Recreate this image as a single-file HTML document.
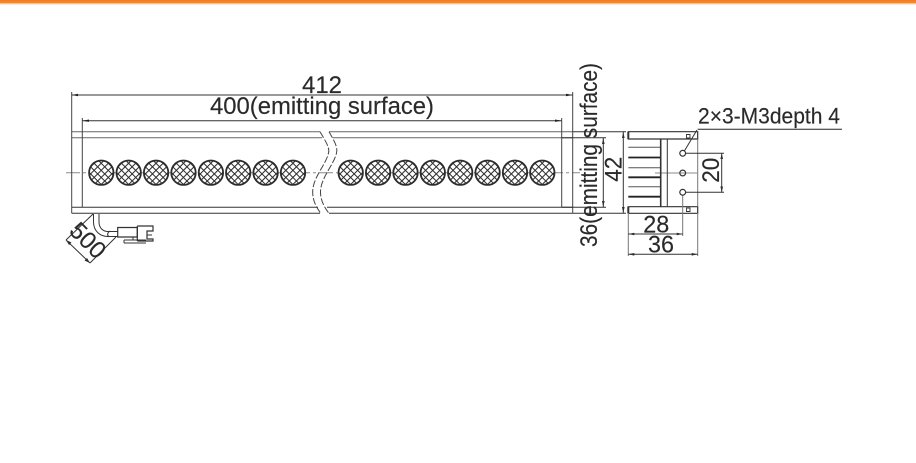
<!DOCTYPE html>
<html><head><meta charset="utf-8"><style>
html,body{margin:0;padding:0;background:#fff;width:916px;height:463px;overflow:hidden}
svg{display:block}
text{font-family:"Liberation Sans",sans-serif;font-size:24px;fill:#2a2a2a;stroke:#2a2a2a;stroke-width:.15}
</style></head><body>
<svg width="916" height="463" viewBox="0 0 916 463" xmlns="http://www.w3.org/2000/svg">
<defs>
<linearGradient id="g" x1="0" y1="0" x2="0" y2="1"><stop offset="0" stop-color="#f57c1f"/><stop offset=".55" stop-color="#f8872c"/><stop offset=".75" stop-color="#fbd0a8"/><stop offset="1" stop-color="#fff"/></linearGradient>
<pattern id="h" width="5" height="5" patternUnits="userSpaceOnUse" patternTransform="rotate(45 101 173)">
<rect width="5" height="5" fill="#fff"/><path d="M0 0H5M0 0V5" stroke="#2c2c2c" stroke-width="2.1" fill="none"/>
</pattern>
<g id="c"><circle r="12.2" fill="url(#h)" stroke="#2c2c2c" stroke-width="1.8"/></g>
</defs>
<rect x="0" y="0" width="916" height="5" fill="url(#g)"/>
<!-- center line -->
<g stroke="#8a8a8a" stroke-width="1" fill="none">
<path d="M66 172.7H580" stroke-dasharray="14 3 3 3"/>
<path d="M655 173H697M704 173H710"/>
</g>
<!-- body -->
<g stroke="#444" stroke-width="1" fill="none">
<path d="M71.7 131.7H320M329 131.7H572.7M71.7 137.7H322M333 137.7H572.7" stroke="#666"/>
<path d="M71.7 207.3H318M327 207.3H572.7M71.7 213.3H320M329 213.3H572.7" stroke="#333"/>
<path d="M71.7 92V213.3M572.7 92V213.3M82.3 118V207.3M561.7 118V207.3"/>
<path d="M71.7 95H572.7M82.3 120.7H561.7" stroke="#333"/>
<path d="M320 131.7C326 142 330 148 328.5 153C326 165 312 178 312.7 193C313 202 317 208 320.7 213.3" stroke-dasharray="7 2"/>
<path d="M329 131.7C335 142 338 148 336.5 153C334 165 320 178 320.5 193C321 202 325 208 329 213.3" stroke-dasharray="7 2"/>
</g>
<!-- arrowheads -->
<g fill="#222">
<path d="M71.7 95L78 93.8V96.2ZM572.7 95L566 93.8V96.2ZM82.3 120.7L89 119.5V121.9ZM561.7 120.7L555 119.5V121.9Z"/>
<path d="M623.3 132L622 138H624.6ZM623.3 213L622 207H624.6ZM603.3 138L602 144H604.6ZM603.3 207L602 201H604.6Z"/>
<path d="M721.7 153.3L720.4 159H723ZM721.7 192.3L720.4 186.5H723Z"/>
<path d="M628.3 234L634.3 232.7V235.3ZM682.7 234L676.7 232.7V235.3ZM628.3 254.3L634.3 253V255.6ZM697.7 254.3L691.7 253V255.6Z"/>
<path d="M66 240L71.5 242.5L69 245ZM90 263L84.5 260.5L87 258Z"/>
</g>
<!-- circles -->
<use href="#c" x="101.3" y="172.7"/><use href="#c" x="128.7" y="172.7"/><use href="#c" x="156.1" y="172.7"/><use href="#c" x="183.5" y="172.7"/><use href="#c" x="210.9" y="172.7"/><use href="#c" x="238.2" y="172.7"/><use href="#c" x="265.6" y="172.7"/><use href="#c" x="293" y="172.7"/>
<use href="#c" x="350.7" y="172.7"/><use href="#c" x="378.1" y="172.7"/><use href="#c" x="405.5" y="172.7"/><use href="#c" x="432.8" y="172.7"/><use href="#c" x="460.2" y="172.7"/><use href="#c" x="487.6" y="172.7"/><use href="#c" x="515" y="172.7"/><use href="#c" x="542.3" y="172.7"/>
<!-- wire and connector -->
<g stroke="#333" stroke-width="1" fill="none">
<path d="M93.5 214V222C93.5 231 100 236.5 108 236.5H117.7"/>
<path d="M99 214V222C99 228 103 231.5 108 231.5H117.7"/>
<path d="M110 231C107 233 107 235 109 237"/>
<path d="M117.7 227.5H137.3V237H117.7Z" stroke-width="1.2"/>
<path d="M137.3 226V241M137.3 226H153V231H147V239H153V241H137.3" stroke-width="1.2"/>
<path d="M147 235H152M124 240H146M124 243H146M124 240L124 243M133 237V240"/>
<path d="M93 214L66 240M90 263L116 237M66 240L90 263"/>
</g>
<!-- side view -->
<g stroke="#333" fill="none" stroke-width="1">
<path d="M628.3 131.7H697.7V139H628.3ZM628.3 206.7H697.7V213.3H628.3Z" stroke-width="1.2"/>
<path d="M628.3 131.7V139M628.3 206.7V213.3" stroke-width="2"/>
<path d="M660.7 139V206.7" stroke-width="1.6"/><path d="M667.3 139V206.7"/>
<path d="M697.7 139V206.7M697.7 213V256M628.3 213V256M682.7 195.5V236" stroke="#777"/>
<path d="M628.3 147.3H660M628.3 167.7H660M628.3 186.7H660" stroke="#555"/>
<path d="M628.3 157.5H660M628.3 177.3H660M628.3 196.7H660" stroke-width="1.8" stroke="#222"/>
<path d="M686.5 134.5h3.5v3.5h-3.5zM686.5 208h3.5v3.5h-3.5z" stroke-width=".9"/>
<circle cx="682.7" cy="153.3" r="2.9" stroke-width="1.2"/><circle cx="682.7" cy="173" r="2.9" stroke-width="1.2"/><circle cx="682.7" cy="192.3" r="2.9" stroke-width="1.2"/>
<path d="M697.7 129.3H842" stroke="#222"/>
<path d="M697 130L684.5 150.8"/>
<path d="M685.5 153.3H724M685.5 192.3H724M721.7 153.3V192.3"/>
<path d="M628.3 234H682.7M628.3 254.3H697.7"/>
<path d="M572.7 131.7H626M572.7 213.3H626M623.3 132V213M561.7 137.7H606M561.7 207.3H606M603.3 138V207"/>
</g>
<!-- text -->
<text x="302" y="93" textLength="40" lengthAdjust="spacingAndGlyphs">412</text>
<text x="210" y="114" textLength="224" lengthAdjust="spacingAndGlyphs">400(emitting surface)</text>
<text x="698" y="123.3" textLength="142" lengthAdjust="spacingAndGlyphs" style="font-size:22px">2×3-M3depth 4</text>
<text x="643.3" y="232.7" textLength="26" lengthAdjust="spacingAndGlyphs">28</text>
<text x="648" y="252.7" textLength="26" lengthAdjust="spacingAndGlyphs">36</text>
<text transform="translate(621.7 181.7) rotate(-90)" textLength="25" lengthAdjust="spacingAndGlyphs">42</text>
<text transform="translate(719 182.7) rotate(-90)" textLength="25" lengthAdjust="spacingAndGlyphs">20</text>
<text transform="translate(597 247) rotate(-90)" textLength="184" lengthAdjust="spacingAndGlyphs">36(emitting surface)</text>
<text transform="translate(68 232) rotate(45)" textLength="40" lengthAdjust="spacingAndGlyphs">500</text>
</svg>
</body></html>
